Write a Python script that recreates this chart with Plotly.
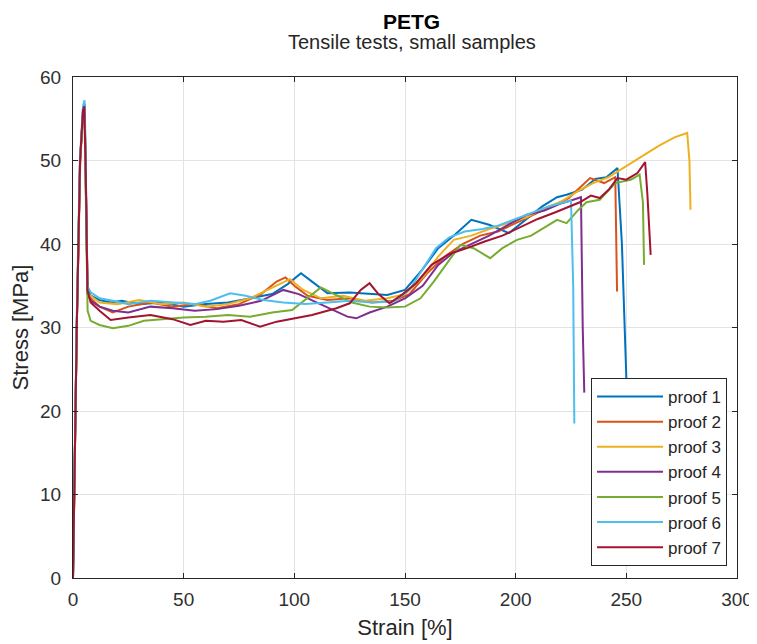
""" PETG tensile tests chart """
import plotly.graph_objects as go

# strain [%] / stress [MPa], one pair of lists per test
strain_1 = [0, 0.5, 1.7, 3.2, 4.6, 5.3, 6.0, 6.6, 8, 12, 17, 22, 30, 40, 50, 60, 70, 80, 90, 97, 103, 108, 115, 125, 135, 142,
            150, 158, 165, 172, 180, 188, 197, 205, 212, 218.7, 223, 230, 236, 241, 246, 248, 251.5]
stress_1 = [0, 10, 30, 50, 56.3, 56.8, 45, 34.5, 33.8, 33.3, 33, 33.2, 32.8, 33, 32.5, 32.8, 33, 33.5, 34, 35.2, 36.5, 35.5,
            34.1, 34.2, 34, 33.9, 34.5, 37, 39.5, 41, 42.9, 42.3, 41.3, 43, 44.5, 45.6, 45.9, 46.5, 47.8, 48, 49.1, 40, 12]

strain_2 = [0, 0.5, 1.7, 3.3, 4.7, 5.3, 6.0, 6.6, 8, 12, 18, 25, 35, 45, 55, 65, 75, 85, 92, 96, 100, 106, 115, 125, 135, 145,
            152, 160, 168, 176, 184, 192, 200, 208, 216, 224, 233.6, 240, 245, 245.4, 245.8]
stress_2 = [0, 10, 30, 50, 56.3, 55, 44, 34, 33.5, 32.5, 31.8, 32.5, 33, 32.5, 32.8, 32.3, 32.8, 34, 35.5, 36, 35, 33.8, 33.3,
            33.5, 33, 33.2, 34, 36.5, 38.5, 40, 41, 41.5, 42.5, 43.5, 44.5, 45.5, 47.9, 47.3, 48, 40, 34.3]

strain_3 = [0, 0.5, 1.7, 3.2, 4.6, 5.3, 6.0, 6.6, 8, 12, 20, 30, 40, 50, 60, 70, 80, 90, 98, 104, 112, 122, 132, 142, 150, 158,
            165, 172, 180, 188, 196, 205, 212, 220, 228, 235, 242, 250, 258, 265, 272, 277.5, 278.5, 279]
stress_3 = [0, 10, 30, 50, 56, 55, 44, 34, 33.8, 33, 32.8, 33.3, 32.8, 33, 32.5, 32.8, 33.5, 34.8, 35.8, 34.5, 33.5, 33.8, 33.2,
            33.5, 34, 36, 38.5, 40.5, 41, 41.8, 42.5, 43.2, 44.2, 45, 46.3, 47.3, 48, 49.3, 50.7, 51.8, 52.8, 53.3, 50, 44.1]

strain_4 = [0, 0.5, 1.7, 3.2, 4.6, 5.3, 6.0, 6.6, 8, 12, 18, 25, 35, 45, 55, 65, 75, 85, 95, 102, 110, 118, 124, 128, 134, 142,
            150, 158, 165, 172, 180, 188, 196, 205, 213, 220, 226, 229.5, 230.3, 231]
stress_4 = [0, 10, 30, 50, 56.2, 55.5, 44, 34, 33.2, 32.5, 32, 31.8, 32.5, 32.3, 32, 32.2, 32.6, 33.2, 34.5, 34, 33, 32, 31.3,
            31.1, 31.8, 32.5, 33.5, 35, 37.5, 39, 40, 41, 42.2, 43.5, 44, 44.8, 45.3, 45.6, 30, 22.2]

strain_5 = [0, 0.5, 1.7, 3.2, 4.6, 5.3, 6.0, 6.6, 8, 12, 18, 25, 32, 40, 50, 60, 70, 80, 90, 99, 106, 112, 118, 126, 134, 142,
            150, 157, 163, 170, 175, 181, 188.5, 194, 200.6, 207, 213, 218.7, 223, 228, 232, 238, 245, 252, 256, 257.5, 258]
stress_5 = [0, 10, 30, 50, 56, 54, 42, 32, 30.8, 30.3, 29.9, 30.2, 30.8, 31, 31.2, 31.3, 31.5, 31.3, 31.8, 32.1, 33.5, 34.8, 34,
            33, 32.5, 32.4, 32.5, 33.5, 35.5, 38, 39.9, 39.5, 38.3, 39.5, 40.5, 41, 42, 42.9, 42.5, 44, 45, 45.3, 47.3, 47.7,
            48.3, 45, 37.5]

strain_6 = [0, 0.5, 1.6, 3.1, 4.5, 5.2, 5.9, 6.5, 8, 12, 18, 25, 35, 45, 55, 62, 71, 78, 86, 95, 105, 115, 125, 135, 145, 152,
            158, 164, 170, 177, 185, 192, 200, 208, 215, 222, 225, 226, 226.5]
stress_6 = [0, 10, 30, 50, 56.5, 57.2, 46, 35, 34.2, 33.5, 33.2, 32.8, 33.2, 33, 32.8, 33.2, 34.1, 33.8, 33.3, 33, 32.8, 33,
            33.2, 33, 33.1, 34.5, 37, 39.5, 40.8, 41.5, 41.8, 42.2, 43, 43.8, 44.5, 45, 45.2, 35, 18.5]

strain_7 = [0, 0.5, 1.7, 3.2, 4.5, 5.1, 5.8, 6.5, 8, 12, 17, 25, 35, 45, 53, 60, 68, 76, 84.5, 92, 99.4, 108, 119, 125, 130,
            134, 138, 143, 149, 155, 162, 170, 178, 186, 194, 202, 210, 218, 224, 229, 234, 238, 242, 246, 250, 255, 258.5,
            259.5, 261]
stress_7 = [0, 10, 30, 50, 56, 56.5, 48, 34.5, 33, 32, 30.9, 31.2, 31.5, 31, 30.3, 30.8, 30.7, 30.9, 30.1, 30.7, 31.1, 31.5,
            32.3, 32.9, 34.5, 35.3, 34, 32.9, 34, 35.3, 37.5, 38.8, 39.5, 40.3, 41, 42, 43, 43.8, 44.5, 45, 45.8, 45.5, 46.5,
            47.9, 47.7, 48.5, 49.8, 46, 38.7]

names = ["proof 1", "proof 2", "proof 3", "proof 4", "proof 5", "proof 6", "proof 7"]
strains = [strain_1, strain_2, strain_3, strain_4, strain_5, strain_6, strain_7]
stresses = [stress_1, stress_2, stress_3, stress_4, stress_5, stress_6, stress_7]
colors = ["#0072BD", "#D95319", "#EDB120", "#7E2F8E", "#77AC30", "#4DBEEE", "#A2142F"]

fig = go.Figure()
for name, sx, sy, c in zip(names, strains, stresses, colors):
    fig.add_trace(go.Scatter(x=sx, y=sy, mode="lines", name=name,
                             line=dict(color=c, width=2)))

font = "Liberation Sans, Arial, sans-serif"
axis_style = dict(showline=True, linecolor="#262626", linewidth=1, mirror="ticks",
                  ticks="inside", ticklen=5, tickcolor="#262626",
                  showgrid=True, gridcolor="#e3e3e3", zeroline=False, automargin=False,
                  tickfont=dict(family=font, size=19, color="#303030"))

# page body has an 8px margin, so the figure is shifted; margins compensate
fig.update_layout(
    width=757, height=644,
    margin=dict(l=65, r=28, t=69, b=74),
    plot_bgcolor="white", paper_bgcolor="white",
    font=dict(family=font, color="#262626"),
    xaxis=dict(range=[0, 300], dtick=50, ticklabelstandoff=4,
               title=dict(text="Strain [%]", font=dict(size=22), standoff=10), **axis_style),
    yaxis=dict(range=[0, 60], dtick=10, ticklabelstandoff=7,
               title=dict(text="Stress [MPa]", font=dict(size=22), standoff=5), **axis_style),
    legend=dict(x=0.985, y=0.024, xanchor="right", yanchor="bottom",
                bgcolor="white", bordercolor="#262626", borderwidth=1,
                font=dict(family=font, size=17, color="#262626"),
                tracegroupgap=0, itemwidth=66),
    showlegend=True,
    annotations=[
        dict(text="<b>PETG</b>", x=0.51, y=1.11, xref="paper", yref="paper", yanchor="middle",
             showarrow=False, font=dict(size=21, color="black")),
        dict(text="Tensile tests, small samples", x=0.51, y=1.07, xref="paper", yref="paper", yanchor="middle",
             showarrow=False, font=dict(size=20, color="#262626")),
    ],
)

fig.write_html("out.html")
